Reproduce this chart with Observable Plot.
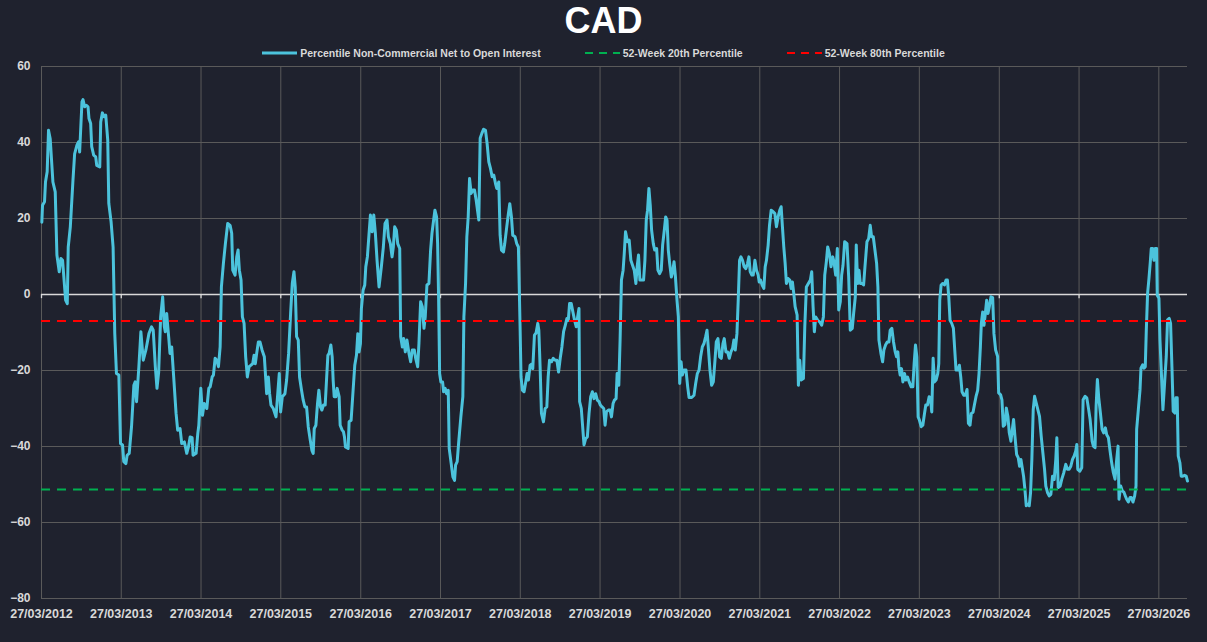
<!DOCTYPE html>
<html><head><meta charset="utf-8">
<script src="https://cdn.jsdelivr.net/npm/d3@7"></script>
<script src="https://cdn.jsdelivr.net/npm/@observablehq/plot@0.6"></script>
<style>
html,body{margin:0;padding:0;background:#1f222e;}
body{width:1207px;height:642px;overflow:hidden;font-family:"Liberation Sans Narrow","Arial Narrow","Liberation Sans",sans-serif;font-weight:bold;color:#d9d9d9;}
#title{height:40px;line-height:42px;text-align:center;font-size:36px;color:#ffffff;}
#legend{position:relative;z-index:1;height:26px;margin-bottom:-16px;display:flex;justify-content:center;align-items:center;font-size:10.5px;color:#d9d9d9;}
#legend .item{display:flex;align-items:center;}
#legend .item + .item{margin-left:44px;}
#legend svg{margin-right:3px;}
#chart svg{display:block;}
</style>
</head><body>
<div id="title"></div>
<div id="legend"></div>
<div id="chart"></div>
<script>
const chartTitle = "CAD";
const seriesNames = ["Percentile Non-Commercial Net to Open Interest", "52-Week 20th Percentile", "52-Week 80th Percentile"];
const seriesColors = ["#4cc3dc", "#00b050", "#ff0000"];
const tickLabels = ["27/03/2012","27/03/2013","27/03/2014","27/03/2015","27/03/2016","27/03/2017","27/03/2018","27/03/2019","27/03/2020","27/03/2021","27/03/2022","27/03/2023","27/03/2024","27/03/2025","27/03/2026"];
const yTicks = [-80, -60, -40, -20, 0, 20, 40, 60];
const pct20 = -51.3;
const pct80 = -7.0;
const startDate = "27/03/2012";
// [years since 27/03/2012, percentile value]
const percentile = [
[0.004,19.0],[0.013,23.5],[0.038,24.4],[0.050,29.6],[0.071,32.3],[0.088,43.2],[0.109,41.0],[0.143,29.6],[0.172,27.0],[0.193,10.4],[0.222,6.0],[0.243,9.5],[0.264,9.0],[0.302,-1.5],[0.323,-2.4],[0.335,12.5],[0.361,17.8],[0.394,30.0],[0.415,37.0],[0.444,39.3],[0.465,40.2],[0.478,37.5],[0.507,50.7],[0.520,51.3],[0.541,49.4],[0.562,49.8],[0.583,49.4],[0.595,46.3],[0.616,45.0],[0.629,38.9],[0.654,36.7],[0.679,36.2],[0.692,34.0],[0.730,33.6],[0.742,45.4],[0.763,47.8],[0.784,46.8],[0.805,47.2],[0.830,40.6],[0.843,24.0],[0.872,19.1],[0.897,12.5],[0.918,-10.3],[0.939,-20.8],[0.969,-21.2],[0.990,-39.2],[1.015,-39.6],[1.031,-44.0],[1.057,-44.5],[1.073,-42.3],[1.099,-41.8],[1.128,-34.8],[1.157,-23.9],[1.174,-23.0],[1.191,-28.2],[1.220,-19.0],[1.245,-9.8],[1.275,-17.3],[1.308,-14.6],[1.346,-10.3],[1.379,-8.5],[1.400,-9.4],[1.426,-19.0],[1.447,-24.7],[1.468,-20.4],[1.493,-5.9],[1.518,-0.6],[1.539,-8.5],[1.551,-9.8],[1.568,-5.0],[1.593,-11.1],[1.610,-15.5],[1.631,-13.8],[1.652,-20.4],[1.686,-31.3],[1.706,-35.7],[1.736,-35.3],[1.757,-39.2],[1.790,-38.8],[1.820,-41.8],[1.841,-40.1],[1.862,-37.5],[1.887,-37.7],[1.899,-42.3],[1.937,-41.8],[1.958,-36.6],[1.971,-34.4],
[1.996,-24.7],[2.017,-31.8],[2.038,-28.7],[2.071,-30.0],[2.096,-24.7],[2.113,-24.3],[2.138,-21.7],[2.154,-21.2],[2.175,-16.8],[2.196,-17.3],[2.217,-19.0],[2.238,-13.8],[2.254,2.0],[2.279,8.2],[2.304,13.4],[2.333,18.7],[2.363,18.2],[2.383,16.1],[2.396,6.4],[2.425,5.1],[2.446,9.9],[2.463,11.7],[2.479,6.4],[2.500,3.8],[2.517,-5.9],[2.538,-7.6],[2.558,-16.4],[2.579,-21.7],[2.600,-19.0],[2.625,-18.6],[2.646,-18.2],[2.663,-16.0],[2.679,-18.2],[2.696,-15.5],[2.717,-12.5],[2.738,-12.5],[2.763,-14.6],[2.792,-16.4],[2.808,-21.7],[2.821,-26.1],[2.842,-21.7],[2.858,-26.1],[2.875,-29.1],[2.904,-30.0],[2.938,-32.2],[2.963,-25.2],[2.979,-20.8],[2.996,-30.9],[3.017,-26.9],[3.050,-26.1],[3.071,-22.5],[3.096,-15.5],[3.121,-5.0],[3.142,2.9],[3.163,6.0],[3.179,2.0],[3.196,-11.1],[3.217,-12.0],[3.233,-21.7],[3.258,-25.2],[3.279,-27.8],[3.300,-29.6],[3.321,-29.6],[3.342,-34.8],[3.367,-38.3],[3.388,-41.0],[3.404,-41.8],[3.417,-35.3],[3.438,-34.4],[3.458,-28.7],[3.475,-25.2],[3.496,-29.6],[3.513,-30.4],[3.533,-29.1],[3.554,-29.1],[3.571,-22.5],[3.588,-16.0],[3.604,-15.5],[3.625,-13.3],[3.642,-16.4],[3.654,-22.5],[3.667,-26.9],[3.688,-26.9],[3.704,-24.7],[3.729,-26.9],[3.742,-34.4],[3.767,-35.7],[3.783,-36.1],[3.796,-37.5],[3.808,-40.1],[3.842,-40.5],[3.854,-33.5],[3.879,-33.1],[3.904,-25.2],[3.925,-18.6],[3.946,-16.0],[3.963,-10.3],
[3.979,-15.1],[3.996,-12.9],[4.008,-3.7],[4.029,1.1],[4.050,2.5],[4.063,7.3],[4.083,9.9],[4.104,16.1],[4.121,20.9],[4.142,16.5],[4.163,20.9],[4.183,16.1],[4.204,9.0],[4.229,2.0],[4.258,7.3],[4.283,12.5],[4.304,18.7],[4.329,19.6],[4.346,15.2],[4.371,13.4],[4.392,9.9],[4.408,12.5],[4.425,17.8],[4.446,16.9],[4.463,13.4],[4.488,12.1],[4.500,-11.1],[4.521,-13.8],[4.538,-11.6],[4.558,-15.1],[4.579,-12.0],[4.604,-15.5],[4.625,-17.7],[4.646,-14.6],[4.671,-14.6],[4.688,-16.8],[4.713,-19.0],[4.729,-12.9],[4.750,-1.9],[4.771,-3.2],[4.792,-8.9],[4.808,-5.9],[4.829,2.5],[4.854,2.9],[4.875,11.7],[4.892,16.1],[4.913,19.6],[4.929,22.2],[4.950,20.4],[4.963,13.4],[4.975,-0.6],[4.988,-20.8],[5.004,-23.0],[5.025,-23.0],[5.038,-25.6],[5.058,-24.7],[5.075,-26.1],[5.096,-25.2],[5.108,-40.5],[5.133,-44.5],[5.154,-48.0],[5.175,-48.9],[5.188,-44.9],[5.208,-44.0],[5.229,-38.3],[5.254,-32.2],[5.279,-26.9],[5.292,-5.9],[5.313,2.9],[5.329,15.2],[5.346,20.4],[5.363,30.5],[5.383,26.6],[5.404,27.5],[5.425,27.5],[5.446,24.8],[5.479,19.6],[5.496,41.1],[5.517,42.4],[5.538,43.5],[5.563,43.2],[5.583,39.7],[5.604,34.9],[5.625,33.2],[5.646,31.0],[5.667,31.4],[5.688,29.2],[5.704,27.9],[5.729,29.6],[5.746,15.6],[5.763,11.7],[5.788,11.2],[5.804,13.4],[5.829,17.8],[5.850,21.3],[5.867,23.9],[5.888,20.4],[5.904,15.6],[5.933,15.2],[5.954,13.4],[5.975,12.5],
[5.996,-8.5],[6.008,-21.7],[6.025,-25.2],[6.046,-25.6],[6.067,-23.0],[6.084,-20.8],[6.100,-22.5],[6.122,-18.6],[6.143,-18.3],[6.155,-19.5],[6.176,-10.7],[6.197,-10.1],[6.218,-7.6],[6.231,-9.4],[6.247,-19.0],[6.264,-31.3],[6.289,-33.5],[6.310,-30.0],[6.331,-29.6],[6.348,-21.7],[6.365,-17.3],[6.390,-17.7],[6.411,-16.8],[6.436,-17.3],[6.457,-17.3],[6.478,-20.4],[6.499,-16.8],[6.520,-13.8],[6.541,-9.8],[6.562,-8.1],[6.583,-6.3],[6.600,-6.8],[6.616,-2.4],[6.637,-2.4],[6.658,-4.6],[6.679,-6.8],[6.700,-8.5],[6.717,-5.9],[6.734,-3.7],[6.742,-28.2],[6.763,-30.0],[6.780,-34.8],[6.797,-39.6],[6.818,-37.9],[6.839,-37.5],[6.860,-31.3],[6.881,-26.9],[6.902,-25.6],[6.922,-27.4],[6.943,-26.1],[6.964,-27.8],[6.985,-28.2],[7.002,-29.1],[7.023,-29.6],[7.044,-30.0],[7.061,-34.4],[7.078,-30.9],[7.103,-30.4],[7.124,-30.4],[7.141,-32.2],[7.161,-28.7],[7.178,-27.8],[7.199,-27.4],[7.212,-20.8],[7.233,-23.9],[7.249,-12.0],[7.266,3.8],[7.287,6.4],[7.300,10.4],[7.317,16.5],[7.342,13.9],[7.363,14.3],[7.384,9.0],[7.405,7.7],[7.426,6.4],[7.447,2.9],[7.463,7.3],[7.480,10.4],[7.497,3.8],[7.518,3.8],[7.543,3.8],[7.560,9.0],[7.577,19.6],[7.593,22.2],[7.610,27.9],[7.627,23.5],[7.644,16.9],[7.665,13.4],[7.682,11.7],[7.707,12.1],[7.723,6.4],[7.744,5.5],[7.765,6.4],[7.782,13.0],[7.803,16.9],[7.820,20.4],[7.837,19.6],[7.853,11.7],[7.870,8.2],[7.891,4.6],[7.908,6.0],[7.925,8.6],[7.941,5.1],[7.962,-1.5],
[7.979,-5.9],[7.996,-23.4],[8.013,-17.7],[8.029,-21.2],[8.050,-19.9],[8.075,-19.9],[8.096,-24.3],[8.113,-27.1],[8.146,-27.1],[8.175,-26.5],[8.196,-23.4],[8.217,-20.8],[8.238,-19.9],[8.258,-16.4],[8.279,-13.8],[8.300,-12.9],[8.321,-11.1],[8.338,-9.4],[8.354,-13.8],[8.375,-19.9],[8.396,-23.9],[8.417,-23.0],[8.438,-17.3],[8.454,-12.5],[8.475,-11.6],[8.496,-16.4],[8.517,-16.8],[8.538,-12.9],[8.554,-11.6],[8.575,-15.1],[8.596,-15.1],[8.617,-16.8],[8.638,-15.1],[8.658,-14.2],[8.675,-12.0],[8.692,-14.6],[8.713,-10.3],[8.729,-1.5],[8.746,9.0],[8.763,9.9],[8.783,9.0],[8.804,7.3],[8.825,6.8],[8.846,8.2],[8.863,9.9],[8.879,6.0],[8.900,5.1],[8.917,5.1],[8.938,9.0],[8.958,6.4],[8.979,5.1],[8.992,3.3],[9.008,3.8],[9.029,2.5],[9.050,1.6],[9.067,7.3],[9.083,9.0],[9.104,13.0],[9.121,18.2],[9.142,22.2],[9.167,21.8],[9.188,21.3],[9.208,17.8],[9.229,20.4],[9.250,22.2],[9.267,23.1],[9.283,17.8],[9.300,12.5],[9.317,8.2],[9.333,2.9],[9.354,4.2],[9.375,3.8],[9.392,1.6],[9.408,3.3],[9.425,0.3],[9.442,-3.2],[9.467,-5.4],[9.483,-23.9],[9.500,-17.3],[9.517,-22.5],[9.546,-22.1],[9.563,-8.5],[9.583,2.0],[9.608,2.9],[9.633,3.8],[9.650,6.0],[9.667,-3.2],[9.683,-9.8],[9.700,-5.9],[9.725,-6.8],[9.750,-7.2],[9.775,-8.1],[9.796,-5.9],[9.813,5.1],[9.833,8.6],[9.850,12.5],[9.871,10.8],[9.892,7.3],[9.913,9.9],[9.929,8.6],[9.950,5.1],[9.971,12.1],
[9.988,-4.1],[10.008,-1.9],[10.025,5.1],[10.042,7.7],[10.063,13.9],[10.092,13.4],[10.113,4.6],[10.133,-9.4],[10.158,-8.9],[10.175,-5.0],[10.196,-0.6],[10.208,13.0],[10.225,2.9],[10.242,6.4],[10.258,2.9],[10.279,2.9],[10.300,2.5],[10.317,7.3],[10.342,13.9],[10.363,14.7],[10.383,18.2],[10.400,15.2],[10.421,15.2],[10.442,11.7],[10.463,8.2],[10.479,2.0],[10.492,-12.0],[10.517,-15.5],[10.538,-17.7],[10.554,-14.6],[10.575,-13.3],[10.596,-12.5],[10.617,-12.5],[10.633,-9.4],[10.654,-8.9],[10.675,-12.5],[10.696,-15.1],[10.713,-16.4],[10.729,-15.1],[10.742,-19.0],[10.758,-21.2],[10.775,-19.5],[10.792,-23.0],[10.813,-20.8],[10.829,-22.5],[10.850,-21.7],[10.871,-23.0],[10.896,-24.3],[10.917,-24.3],[10.933,-18.2],[10.950,-13.3],[10.967,-16.4],[10.983,-32.2],[11.000,-33.1],[11.021,-34.8],[11.042,-34.4],[11.063,-31.3],[11.079,-29.1],[11.100,-29.1],[11.121,-26.9],[11.138,-27.4],[11.154,-30.9],[11.171,-16.8],[11.188,-23.0],[11.208,-22.5],[11.229,-20.8],[11.242,-18.2],[11.254,-1.5],[11.271,2.5],[11.292,2.9],[11.313,2.5],[11.333,3.8],[11.350,3.8],[11.367,-0.6],[11.383,-6.8],[11.404,-7.6],[11.425,-8.9],[11.442,-14.6],[11.458,-19.9],[11.479,-19.9],[11.500,-18.6],[11.517,-21.7],[11.533,-25.6],[11.554,-26.5],[11.575,-26.5],[11.596,-25.0],[11.613,-33.9],[11.633,-34.4],[11.650,-31.3],[11.671,-31.0],[11.688,-29.1],[11.708,-26.9],[11.729,-25.2],[11.746,-20.8],[11.763,-13.8],[11.775,-7.6],[11.792,-4.6],[11.808,-8.1],[11.825,-5.0],[11.842,-1.5],[11.858,-5.0],[11.875,-3.2],[11.896,-0.6],[11.917,-0.8],[11.933,-10.3],[11.954,-14.6],
[11.979,-16.3],[11.992,-25.9],[12.017,-26.4],[12.033,-27.7],[12.050,-34.7],[12.071,-34.2],[12.088,-29.9],[12.108,-32.1],[12.125,-36.4],[12.146,-38.6],[12.163,-35.5],[12.179,-32.9],[12.196,-37.3],[12.217,-42.1],[12.238,-43.0],[12.254,-45.2],[12.271,-43.4],[12.304,-47.8],[12.321,-51.3],[12.338,-55.6],[12.358,-55.2],[12.375,-55.6],[12.392,-52.1],[12.408,-43.4],[12.425,-30.3],[12.442,-26.8],[12.463,-28.6],[12.483,-30.3],[12.504,-32.1],[12.525,-37.3],[12.546,-41.7],[12.567,-46.0],[12.583,-50.4],[12.604,-52.1],[12.625,-53.0],[12.646,-52.6],[12.667,-47.8],[12.688,-48.7],[12.708,-43.4],[12.721,-37.7],[12.738,-50.8],[12.763,-50.4],[12.783,-48.6],[12.808,-46.9],[12.833,-44.7],[12.854,-46.0],[12.875,-46.0],[12.896,-45.2],[12.917,-43.4],[12.938,-42.5],[12.958,-41.2],[12.971,-39.5],[12.983,-46.0],[13.008,-46.5],[13.033,-45.6],[13.050,-27.7],[13.075,-26.8],[13.096,-27.2],[13.117,-29.9],[13.138,-32.9],
[13.163,-38.6],[13.179,-39.9],[13.200,-40.3],[13.213,-29.4],[13.229,-22.4],[13.246,-27.2],[13.267,-31.2],[13.288,-35.5],[13.308,-36.4],[13.329,-35.1],[13.346,-36.9],[13.367,-37.7],[13.388,-41.2],[13.408,-44.3],[13.429,-46.9],[13.450,-48.6],[13.471,-43.4],[13.488,-39.9],[13.500,-53.9],[13.521,-50.4],[13.542,-51.7],[13.563,-52.1],[13.579,-53.0],[13.596,-53.9],[13.617,-54.6],[13.638,-53.4],[13.654,-53.4],[13.675,-54.6],[13.696,-53.0],[13.713,-50.4],[13.721,-35.5],[13.742,-30.3],[13.763,-25.1],[13.775,-19.4],[13.796,-18.5],[13.813,-19.4],[13.829,-19.0],[13.842,-9.3],[13.858,0.3],[13.875,4.2],[13.892,8.6],[13.904,12.1],[13.921,12.1],[13.938,9.0],[13.954,12.1],[13.971,12.1],[13.979,-0.2],[14.000,-1.0],[14.013,-11.9],[14.029,-19.8],[14.050,-30.3],[14.071,-23.3],[14.092,-16.3],[14.108,-6.7],[14.129,-6.3],[14.146,-7.6],[14.163,-19.0],[14.179,-30.7],[14.200,-31.2],[14.213,-27.2],[14.229,-27.2],[14.242,-42.5],[14.263,-44.3],[14.279,-47.8],[14.300,-47.8],[14.321,-47.6],[14.342,-47.8],[14.358,-49.1]
];

const parse = d3.utcParse("%d/%m/%Y");
const fmt = d3.utcFormat("%d/%m/%Y");
const t0 = parse(startDate).getTime();
const toDate = t => new Date(t0 + t * 365.25 * 86400000);
const data = percentile.map(([t, v]) => ({date: toDate(t), value: v}));
const tickDates = tickLabels.map(parse);
const xEnd = data[data.length - 1].date;

document.getElementById("title").textContent = chartTitle;

// legend
const legend = document.getElementById("legend");
seriesNames.forEach((name, i) => {
  const item = document.createElement("div");
  item.className = "item";
  const dash = i === 0 ? "" : `stroke-dasharray="8,6"`;
  const sw = i === 0 ? 3 : 2;
  item.innerHTML = `<svg width="35" height="10"><line x1="0" x2="35" y1="5" y2="5" stroke="${seriesColors[i]}" stroke-width="${sw}" ${dash}/></svg><span>${name}</span>`;
  legend.appendChild(item);
});

const fontFamily = '"Liberation Sans Narrow","Arial Narrow","Liberation Sans",sans-serif';
const gridColor = "#5a5a5a";
const axisText = "#d9d9d9";

const chart = Plot.plot({
  width: 1207,
  height: 592,
  marginTop: 16,
  marginBottom: 44,
  marginLeft: 41,
  marginRight: 20,
  style: {background: "transparent", color: axisText, fontFamily, fontWeight: "bold"},
  x: {type: "utc", domain: [tickDates[0], xEnd]},
  y: {domain: [-80, 60]},
  marks: [
    Plot.ruleX(tickDates, {stroke: gridColor, strokeWidth: 1}),
    Plot.ruleY(yTicks.filter(d => d !== 0), {stroke: gridColor, strokeWidth: 1}),
    Plot.ruleY([0], {stroke: "#d9d9d9", strokeWidth: 1.3}),
    Plot.ruleX(tickDates, {y1: 0, y2: -1.1, stroke: "#d9d9d9", strokeWidth: 1.3}),
    Plot.line(data, {x: "date", y: "value", stroke: seriesColors[0], strokeWidth: 3, strokeLinejoin: "round", strokeLinecap: "round"}),
    Plot.ruleY([pct20], {stroke: seriesColors[1], strokeWidth: 2, strokeDasharray: "9,7"}),
    Plot.ruleY([pct80], {stroke: seriesColors[2], strokeWidth: 2, strokeDasharray: "9,7"}),
    Plot.axisY(yTicks, {tickSize: 0, tickPadding: 11, fontSize: 12, fontWeight: "bold", fill: axisText, label: null}),
    Plot.axisX(tickDates, {tickSize: 0, tickPadding: 11, fontSize: 12.5, fontWeight: "bold", fill: axisText, tickFormat: fmt, label: null})
  ]
});
document.getElementById("chart").appendChild(chart);
</script>
</body></html>
